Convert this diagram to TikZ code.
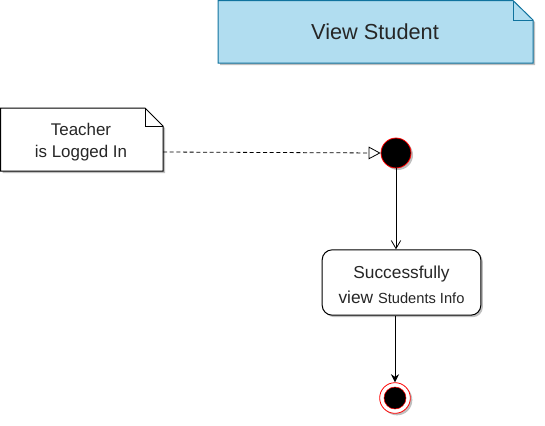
\documentclass[tikz,border=0pt]{standalone}
\usepackage{fontspec}
\setmainfont{Liberation Sans}
\usetikzlibrary{arrows.meta,shadows,calc}
\definecolor{notefill}{RGB}{177,221,240}
\definecolor{notedraw}{RGB}{16,115,158}
\begin{document}
\begin{tikzpicture}[x=0.75pt,y=-0.75pt,
  shd/.style={drop shadow={shadow xshift=1.5pt,shadow yshift=-1.5pt,fill=black,opacity=0.25}},
  conn/.style={draw=black,line width=0.6pt},
  txt/.style={align=center,text=black!85}]
\useasboundingbox (0,0) rectangle (545,425);
% View Student note
\path[shd,fill=notefill,draw=notedraw,line width=0.75pt]
  (218,0.5) -- (513,0.5) -- (533,20) -- (533,63) -- (218,63) -- cycle;
\draw[draw=notedraw,line width=0.75pt] (513,0.5) -- (513,20) -- (533,20);
\node[txt,font=\fontsize{16.3}{19}\selectfont] (title) at (375,32) {View Student};
% Teacher note
\path[shd,fill=white,draw=black,line width=0.75pt]
  (0.5,108) -- (145,108) -- (163,126) -- (163,171) -- (0.5,171) -- cycle;
\draw[black,line width=0.75pt] (145,108) -- (145,126) -- (163,126);
\node[txt,font=\fontsize{12.7}{16.5}\selectfont] (teacher) at (81,142.5) {Teacher\\is Logged In};
\coordinate (tright) at (163,152);
% initial node
\node[circle,fill=black,draw=red,line width=0.6pt,minimum size=22.5pt,inner sep=0pt,shd] (init) at (396,153) {};
% activity
\node[shd,draw=black,fill=white,rounded corners=7.5pt,line width=0.75pt,minimum width=119pt,minimum height=49pt,txt,
  font=\fontsize{13}{18.5}\selectfont] (act) at (401.5,282.5) {};
\node[txt,font=\fontsize{13}{18.5}\selectfont] (acttext) at (401.5,285) {Successfully\\view {\fontsize{11}{13}\selectfont Students Info}};
% final node
\node[circle,fill=white,draw=red,line width=0.6pt,minimum size=23pt,inner sep=0pt,shd] (fin) at (395,398) {};
\node[circle,fill=black,draw=red,line width=0.4pt,minimum size=16.5pt,inner sep=0pt] (fininner) at (395,398) {};
% connectors
\draw[conn,dashed,dash pattern=on 3pt off 2pt,-{Triangle[open,length=9pt,width=9.5pt]}] (tright) -- (init.west);
\draw[conn,-{Straight Barb[length=6pt,width=7pt]}] (init.south) -- (act.north -| init.south);
\draw[conn,-{Stealth[length=6pt,width=6pt]}] (act.south -| fin.north) -- (fin.north);
\end{tikzpicture}
\end{document}
